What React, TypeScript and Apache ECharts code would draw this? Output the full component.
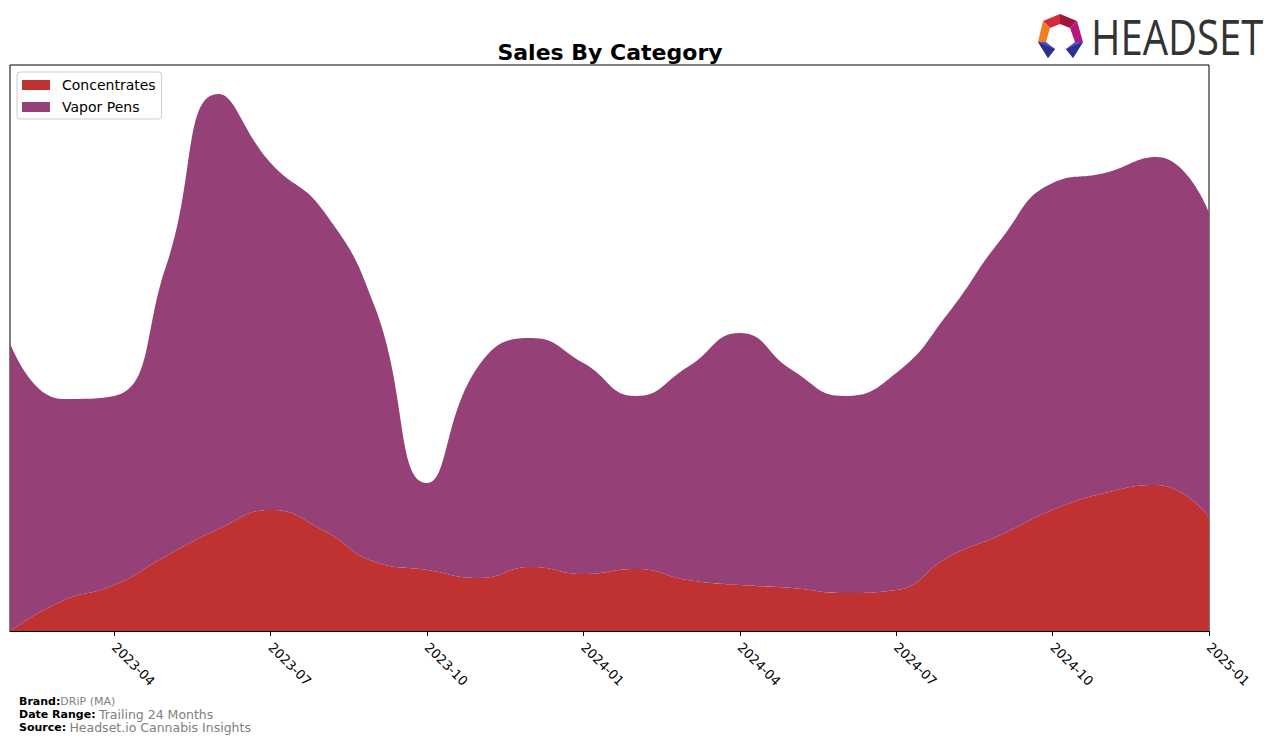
import React, { useEffect, useRef } from "react";
import * as echarts from "echarts";

const months = [
  "2023-02", "2023-03", "2023-04", "2023-05", "2023-06", "2023-07", "2023-08", "2023-09",
  "2023-10", "2023-11", "2023-12", "2024-01", "2024-02", "2024-03", "2024-04", "2024-05",
  "2024-06", "2024-07", "2024-08", "2024-09", "2024-10", "2024-11", "2024-12", "2025-01",
];
const concentrates = [0, 30, 46, 75, 102, 121, 101, 69, 61, 53, 64, 57, 62, 51, 46, 43, 38, 41, 74, 96, 121, 138, 146, 114];
const vaporPens = [288, 202, 189, 291, 435, 347, 320, 255, 87, 213, 229, 211, 173, 213, 252, 218, 197, 217, 244, 295, 327, 320, 328, 305];
const tickLabels = ["2023-04", "2023-07", "2023-10", "2024-01", "2024-04", "2024-07", "2024-10", "2025-01"];

const COLORS = { Concentrates: "#c03232", "Vapor Pens": "#954077" };

export default function App() {
  const ref = useRef<HTMLDivElement>(null);
  useEffect(() => {
    if (!ref.current) return;
    const chart = echarts.init(ref.current, null, { renderer: "svg" });
    const isTick = (i: number) => tickLabels.includes(months[i]);
    chart.setOption({
      animation: false,
      title: {
        text: "Sales By Category",
        left: 605,
        textAlign: "center",
        top: 36,
        textStyle: { fontFamily: "DejaVu Sans", fontSize: 22, fontWeight: "bold", color: "#000" },
      },
      legend: {
        orient: "vertical",
        left: 17,
        top: 72,
        padding: [6, 6, 5, 5],
        itemGap: 8,
        itemWidth: 28,
        itemHeight: 10,
        borderColor: "#cccccc",
        borderWidth: 1,
        borderRadius: 3,
        backgroundColor: "#fff",
        icon: "rect",
        textStyle: { fontFamily: "DejaVu Sans", fontSize: 14, color: "#000", padding: [0, 0, 0, 7] },
        data: ["Concentrates", "Vapor Pens"],
      },
      grid: {
        left: 10,
        right: 67,
        top: 65,
        bottom: 112,
        show: true,
        borderColor: "#000",
        borderWidth: 1,
        backgroundColor: "transparent",
      },
      xAxis: {
        type: "category",
        data: months,
        boundaryGap: false,
        axisLine: { show: true, lineStyle: { color: "#000", width: 1 } },
        axisTick: {
          show: true,
          length: 5,
          lineStyle: { color: "#000" },
          interval: (i: number) => isTick(i),
        },
        axisLabel: {
          rotate: -45,
          interval: (i: number) => isTick(i),
          fontFamily: "DejaVu Sans",
          fontSize: 13,
          color: "#000",
          margin: 14,
        },
        splitLine: { show: false },
      },
      yAxis: {
        type: "value",
        min: 0,
        max: 566,
        axisLabel: { show: false },
        axisTick: { show: false },
        axisLine: { show: false },
        splitLine: { show: false },
      },
      series: [
        {
          name: "Concentrates",
          type: "line",
          stack: "total",
          smooth: 0.5,
          symbol: "none",
          lineStyle: { width: 0 },
          itemStyle: { color: COLORS.Concentrates },
          areaStyle: { color: COLORS.Concentrates, opacity: 1 },
          data: concentrates,
        },
        {
          name: "Vapor Pens",
          type: "line",
          stack: "total",
          smooth: 0.5,
          symbol: "none",
          lineStyle: { width: 0 },
          itemStyle: { color: COLORS["Vapor Pens"] },
          areaStyle: { color: COLORS["Vapor Pens"], opacity: 1 },
          data: vaporPens,
        },
      ],
      graphic: [
        { type: "polygon", shape: { points: [[1043, 21], [1060, 14], [1060, 24], [1050, 28]] }, style: { fill: "#d42a3c" } },
        { type: "polygon", shape: { points: [[1060, 14], [1077, 21], [1070, 28], [1060, 24]] }, style: { fill: "#a3153e" } },
        { type: "polygon", shape: { points: [[1077, 21], [1083, 42], [1075, 42], [1070, 28]] }, style: { fill: "#b8167c" } },
        { type: "polygon", shape: { points: [[1043, 21], [1050, 28], [1046, 42], [1038, 42]] }, style: { fill: "#f07d22" } },
        { type: "polygon", shape: { points: [[1038, 42], [1046, 42], [1055, 49], [1048, 58]] }, style: { fill: "#5552c4" } },
        { type: "polygon", shape: { points: [[1083, 42], [1075, 42], [1066, 49], [1073, 58]] }, style: { fill: "#5552c4" } },
        { type: "polygon", shape: { points: [[1038, 42], [1055, 49], [1048, 58]] }, style: { fill: "#2e2f8a" } },
        { type: "polygon", shape: { points: [[1083, 42], [1066, 49], [1073, 58]] }, style: { fill: "#2e2f8a" } },
        {
          type: "text",
          x: 1091,
          y: 11,
          scaleX: 0.8,
          style: {
            text: "HEADSET",
            fontFamily: "Open Sans",
            fontSize: 50,
            fontWeight: "normal",
            fill: "#333333",
            textVerticalAlign: "top",
          },
        },
        {
          type: "text",
          x: 19,
          y: 696,
          style: {
            text: "{b|Brand:}{g|DRiP (MA)}",
            rich: {
              b: { fontFamily: "DejaVu Sans", fontSize: 11, fontWeight: "bold", fill: "#000" },
              g: { fontFamily: "DejaVu Sans", fontSize: 11, fill: "#808080" },
            },
          },
        },
        {
          type: "text",
          x: 19,
          y: 708,
          style: {
            text: "{b|Date Range:} {g|Trailing 24 Months}",
            rich: {
              b: { fontFamily: "DejaVu Sans", fontSize: 11, fontWeight: "bold", fill: "#000" },
              g: { fontFamily: "DejaVu Sans", fontSize: 12.5, fill: "#808080" },
            },
          },
        },
        {
          type: "text",
          x: 19,
          y: 721,
          style: {
            text: "{b|Source:} {g|Headset.io Cannabis Insights}",
            rich: {
              b: { fontFamily: "DejaVu Sans", fontSize: 11, fontWeight: "bold", fill: "#000" },
              g: { fontFamily: "DejaVu Sans", fontSize: 12.5, fill: "#808080" },
            },
          },
        },
      ],
    });
    return () => chart.dispose();
  }, []);
  return <div ref={ref} style={{ width: 1276, height: 743, position: "absolute", left: 0, top: 0 }} />;
}
